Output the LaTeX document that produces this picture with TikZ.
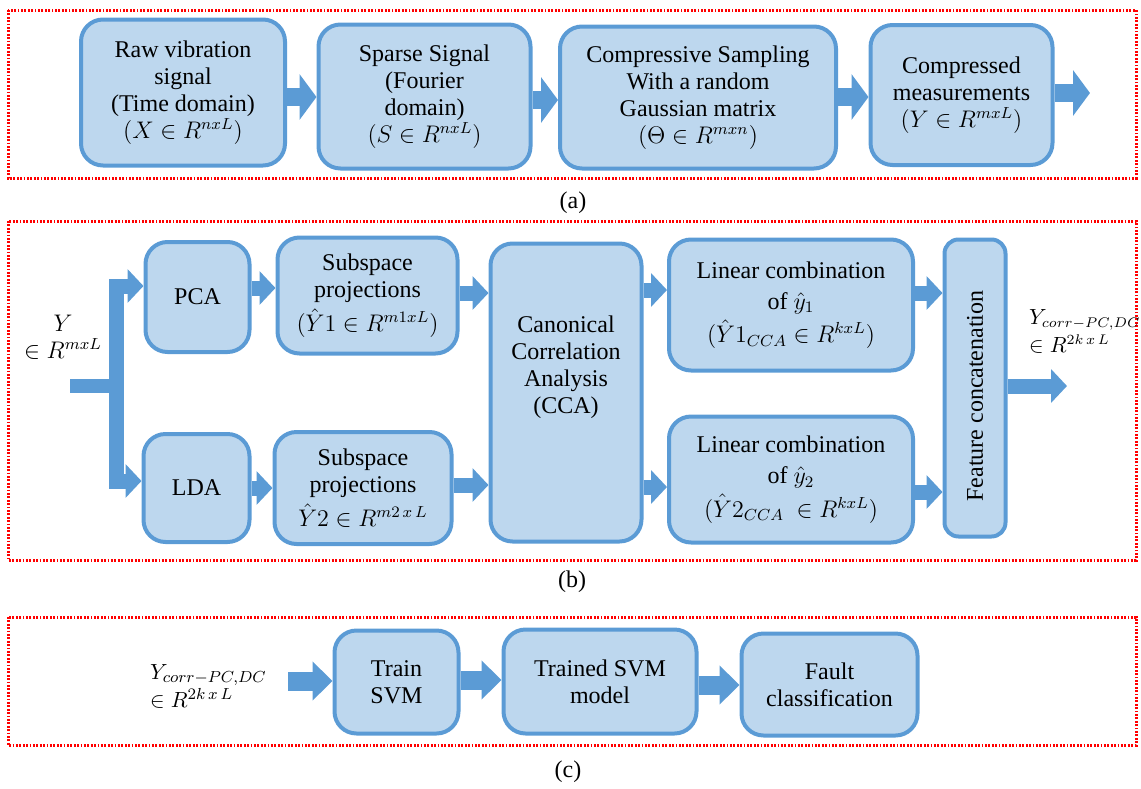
\documentclass[tikz,border=0pt]{standalone}
\usepackage{fontspec}
\setmainfont{Liberation Serif}[Ligatures=TeX]
\usetikzlibrary{arrows.meta}
\definecolor{kastenblau}{RGB}{189,215,238}
\definecolor{randblau}{RGB}{91,155,213}

\begin{document}
\begin{tikzpicture}[x=0.5pt,y=-0.5pt,
		font=\rmfamily\fontsize{12}{13.5}\selectfont,
		kasten/.style={draw=randblau,fill=kastenblau,line width=2pt,rounded corners=11pt,align=center,inner sep=0pt},
		rahmen/.style={draw=red,line width=1.5pt,dash pattern=on 0.9pt off 0.8pt},
		pfeilA/.style={draw=randblau,line width=9pt,-{Triangle[width=22.5pt,length=8.5pt]}},
		pfeilB/.style={draw=randblau,line width=7.5pt,-{Triangle[width=16.5pt,length=8pt]}},
		pfeilC/.style={draw=randblau,line width=9.5pt,-{Triangle[width=19pt,length=10pt]}}]
		\useasboundingbox (0,0) rectangle (1141,788);
		%Rahmen zeichnen
		\foreach \ya/\yb in {10/178,221/560,617/745}
		{
			\draw[rahmen] (8,\ya) rectangle (1136,\yb);
		}
		\node (labA) at (573,203) {(a)};
		\node (labB) at (572,582) {(b)};
		\node (labC) at (568,772) {(c)};

		%Teil (a)
		\node[kasten,minimum width=102pt,minimum height=73pt] (raw) at (183,92.5) {Raw vibration\\signal\\(Time domain)\\$(X\in R^{nxL})$};
		\node[kasten,minimum width=106pt,minimum height=72pt] (sparse) at (424.5,96.5) {Sparse Signal\\(Fourier\\domain)\\$(S\in R^{nxL})$};
		\node[kasten,minimum width=138pt,minimum height=71pt] (cs) at (698,97.5) {Compressive Sampling\\With a random\\Gaussian matrix\\$(\Theta\in R^{mxn})$};
		\node[kasten,minimum width=91pt,minimum height=70pt] (meas) at (961.5,95) {Compressed\\measurements\\$(Y\in R^{mxL})$};
		\coordinate (outA) at (1090,93);
		\foreach \a/\b/\y in {raw/sparse/97,sparse/cs/100,cs/meas/97}
			\draw[pfeilA] (\a.east |- 0,\y) -- (\b.west |- 0,\y);
		\draw[pfeilA] (meas.east |- outA) -- (outA);

		%Teil (b)
		\node[align=center] (ylab) at (63,337) {$Y$\\$\in R^{mxL}$};
		\node[kasten,minimum width=52pt,minimum height=55pt] (pca) at (197.5,297) {PCA};
		\node[kasten,minimum width=53pt,minimum height=54pt] (lda) at (196.5,488) {LDA};
		\node[kasten,minimum width=90pt,minimum height=58pt] (sp1) at (367.5,295.5) {Subspace\\projections\\[2pt]$(\hat{Y}1\in R^{m1xL})$};
		\node[kasten,minimum width=88.5pt,minimum height=56pt] (sp2) at (363,488) {Subspace\\projections\\[2pt]$\hat{Y}2\in R^{m2\,x\,L}$};
		\node[kasten,minimum width=75.5pt,minimum height=149pt] (cca) at (566,392.5) {Canonical\\Correlation\\Analysis\\(CCA)\\[14pt]};
		\node[kasten,minimum width=122pt,minimum height=65.5pt] (lin1) at (791,305) {Linear combination\\[2pt]of $\hat{y}_1$\\[2pt]$(\hat{Y}1_{CCA}\in R^{kxL})$};
		\node[kasten,minimum width=122pt,minimum height=63pt] (lin2) at (791,479.5) {Linear combination\\[2pt]of $\hat{y}_2$\\[2pt]$(\hat{Y}2_{CCA}\ \in R^{kxL})$};
		\node[kasten,rounded corners=7pt,minimum width=30.5pt,minimum height=148.5pt] (fc) at (975,388) {};
		\node[rotate=90] (fctext) at ([yshift=-4pt]fc.center) {Feature concatenation};
		\node[align=left,anchor=west,font=\fontsize{10.5}{14}\selectfont] (ycorrB) at (1022,331) {$Y_{corr-PC,DC}$\\$\in R^{2k\,x\,L}$};
		\coordinate (yin) at (70,386);
		\coordinate (split) at (116,386);
		\coordinate (outB) at (1067,386);
		\draw[randblau,line width=7pt] (yin) -- (split);
		\draw[pfeilB] (split) |- (pca.west |- 0,286);
		\draw[pfeilB] (split) |- (lda.west |- 0,481);
		\foreach \a/\b/\y in {pca/sp1/288,sp1/cca/293,cca/lin1/290,lin1/fc/293,lda/sp2/488,sp2/cca/485,cca/lin2/487,lin2/fc/492}
			\draw[pfeilB] (\a.east |- 0,\y) -- (\b.west |- 0,\y);
		\draw[pfeilB] (fc.east |- outB) -- (outB);

		%Teil (c)
		\node[align=left,anchor=west,font=\fontsize{11}{14}\selectfont] (ycorrC) at (143,686) {$Y_{corr-PC,DC}$\\$\in R^{2k\,x\,L}$};
		\node[kasten,minimum width=62pt,minimum height=51.5pt] (train) at (396.5,682) {Train\\SVM};
		\node[kasten,minimum width=96.5pt,minimum height=52pt] (trained) at (600,681.5) {Trained SVM\\model};
		\node[kasten,minimum width=88pt,minimum height=51pt] (fault) at (829.5,684.5) {Fault\\classification};
		\coordinate (inC) at (288,681);
		\draw[pfeilC] (inC) -- (train.west |- inC);
		\foreach \a/\b/\y in {train/trained/680,trained/fault/685}
			\draw[pfeilC] (\a.east |- 0,\y) -- (\b.west |- 0,\y);
	\end{tikzpicture}
\end{document}
